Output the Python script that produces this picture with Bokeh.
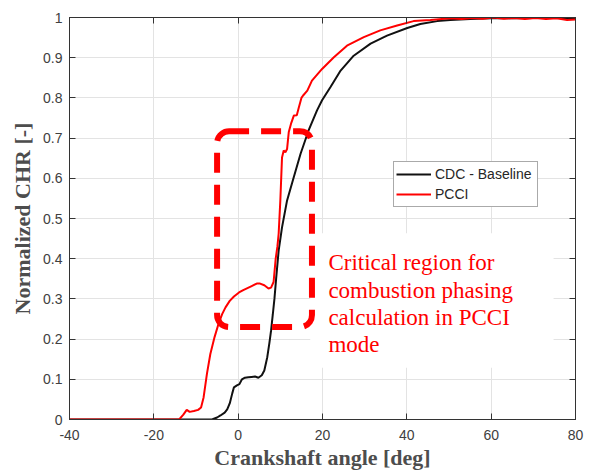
from bokeh.plotting import figure
from bokeh.models import (LinearAxis, FixedTicker, BoxAnnotation, Label, Legend, LegendItem, Range1d)
from bokeh.embed import file_html
from bokeh.resources import INLINE

# ---------------- data ----------------
cdc_x = [-40, -6.2, -5.0, -4.2, -3.2, -2.6, -2.0, -1.4, -1.0, -0.3, 0.3, 0.9, 1.6, 2.4, 3.2, 4.0,
         4.8, 5.6, 6.2, 6.9, 7.4, 7.8, 8.2, 8.6, 9.0, 9.6, 10.4, 11.6, 13.2, 14.8, 16.7, 18.7,
         19.9, 21.9, 24.3, 27.4, 31.4, 35.3, 40.1, 43.2, 47.2, 50.3, 55, 60, 65, 70, 75, 80]
cdc_y = [0, 0, 0.005, 0.01, 0.017, 0.025, 0.04, 0.065, 0.08, 0.085, 0.088, 0.1, 0.104, 0.105,
         0.106, 0.107, 0.104, 0.11, 0.122, 0.155, 0.19, 0.221, 0.26, 0.30, 0.35, 0.42, 0.478,
         0.545, 0.603, 0.661, 0.719, 0.769, 0.794, 0.827, 0.868, 0.905, 0.935, 0.955, 0.974,
         0.984, 0.991, 0.994, 0.996, 0.998, 0.998, 0.999, 0.999, 0.998]

pcci_x = [-40, -14.0, -13.0, -12.2, -11.5, -10.5, -9.5, -8.8, -8.2, -7.4, -6.6, -5.6, -4.6,
          -3.8, -3.0, -2.0, -1.0, 0.2, 1.2, 2.2, 3.2, 4.4, 5.2, 6.2, 7.2, 7.8, 8.4, 8.9, 9.3,
          9.6, 10.0, 10.4, 10.8, 11.2, 11.6, 12.0, 12.6, 13.2, 13.9, 14.4, 15.0, 15.4, 16.4,
          17.5, 19.9, 22.7, 25.8, 29.8, 33.7, 37.7, 41.6, 45.6, 50.3, 53, 55.5, 58, 60.5, 63,
          65.5, 68, 70.5, 73, 75.5, 78, 80]
pcci_y = [0, 0, 0.012, 0.024, 0.019, 0.021, 0.024, 0.03, 0.055, 0.114, 0.163, 0.205, 0.24,
          0.262, 0.279, 0.295, 0.306, 0.316, 0.322, 0.327, 0.332, 0.338, 0.338, 0.334, 0.326,
          0.328, 0.342, 0.40, 0.43, 0.462, 0.545, 0.652, 0.669, 0.665, 0.673, 0.715, 0.738,
          0.756, 0.757, 0.777, 0.80, 0.806, 0.818, 0.843, 0.872, 0.901, 0.930, 0.951, 0.968,
          0.980, 0.991, 0.994, 0.998, 0.996, 0.999, 0.997, 1.0, 0.997, 0.999, 0.996, 0.999,
          0.996, 0.998, 0.994, 0.995]

x_ticks = [-40, -20, 0, 20, 40, 60, 80]
y_ticks = [0, 0.1, 0.2, 0.3, 0.4, 0.5, 0.6, 0.7, 0.8, 0.9, 1]
series_names = ["CDC - Baseline", "PCCI"]
note_lines = ["Critical region for", "combustion phasing", "calculation in PCCI", "mode"]

AXC = "#333333"
TICKC = "#404040"
LABC = "#4d4d4d"

p = figure(width=591, height=472, output_backend="svg", toolbar_location=None,
           x_range=Range1d(-40, 80), y_range=Range1d(0, 1),
           min_border_left=69, min_border_right=16, min_border_top=17, min_border_bottom=53)
p.background_fill_color = "white"
p.border_fill_color = "white"
p.outline_line_color = AXC

l1 = p.line(cdc_x, cdc_y, line_color="#111111", line_width=2)
l2 = p.line(pcci_x, pcci_y, line_color="#ff0000", line_width=2)

for ax in (p.xaxis[0], p.yaxis[0]):
    ax.axis_line_color = AXC
    ax.major_tick_line_color = AXC
    ax.major_tick_in = 6
    ax.major_tick_out = 0
    ax.minor_tick_line_color = None
    ax.major_label_text_font = "Liberation Sans"
    ax.major_label_text_font_size = "14px"
    ax.major_label_text_color = TICKC
    ax.axis_label_text_font = "Liberation Serif"
    ax.axis_label_text_font_style = "bold"
    ax.axis_label_text_font_size = "22px"
    ax.axis_label_text_color = LABC

p.xaxis.ticker = FixedTicker(ticks=x_ticks)
p.yaxis.ticker = FixedTicker(ticks=y_ticks)
p.xaxis.major_label_overrides = {t: str(t) for t in x_ticks}
p.yaxis.major_label_overrides = {0: "0", 1: "1"}
p.xaxis.axis_label = "Crankshaft angle [deg]"
p.yaxis.axis_label = "Normalized CHR [-]"
p.xaxis.major_label_standoff = 10
p.xaxis.axis_label_standoff = 2
p.yaxis.major_label_standoff = 7
p.yaxis.axis_label_standoff = 5

for loc, tks in (("above", x_ticks), ("right", y_ticks)):
    a = LinearAxis(ticker=FixedTicker(ticks=tks), axis_line_color=AXC,
                   major_tick_line_color=AXC, major_tick_in=6, major_tick_out=0,
                   minor_tick_line_color=None, major_label_text_color=None,
                   major_label_standoff=0)
    p.add_layout(a, loc)

p.xgrid.ticker = FixedTicker(ticks=x_ticks)
p.ygrid.ticker = FixedTicker(ticks=y_ticks)
p.grid.grid_line_color = "#e3e3e3"
p.grid.grid_line_width = 1

# white background of the note
p.add_layout(BoxAnnotation(left=17.1, right=74.8, bottom=0.129, top=0.463,
                           fill_color="white", fill_alpha=1.0, line_color=None))
# dashed rounded critical-region box
p.add_layout(BoxAnnotation(left=-5.0, right=17.5, bottom=0.23, top=0.717,
                           fill_alpha=0, line_color="#ff0000", line_alpha=1.0, line_width=6,
                           line_dash="20 12", border_radius=12))

note_y = [0.391, 0.322, 0.254, 0.186]
for txt, yy in zip(note_lines, note_y):
    p.add_layout(Label(x=21.4, y=yy, text=txt, text_font="Liberation Serif",
                       text_font_size="23px", text_color="#ff0000",
                       text_baseline="alphabetic", text_align="left"))

legend = Legend(items=[LegendItem(label=series_names[0], renderers=[l1]),
                       LegendItem(label=series_names[1], renderers=[l2])],
                location=(324, 212), orientation="vertical")
legend.label_text_font = "Liberation Sans"
legend.label_text_font_size = "14px"
legend.label_text_color = "#262626"
legend.glyph_width = 35
legend.glyph_height = 20
legend.label_height = 20
legend.label_width = 100
legend.label_standoff = 4
legend.spacing = 0
legend.padding = 2
legend.margin = 0
legend.border_line_color = "#555555"
legend.border_line_width = 1.5
legend.background_fill_color = "white"
legend.background_fill_alpha = 1.0
p.add_layout(legend, "center")

open("out.html", "w").write(file_html(p, INLINE))
